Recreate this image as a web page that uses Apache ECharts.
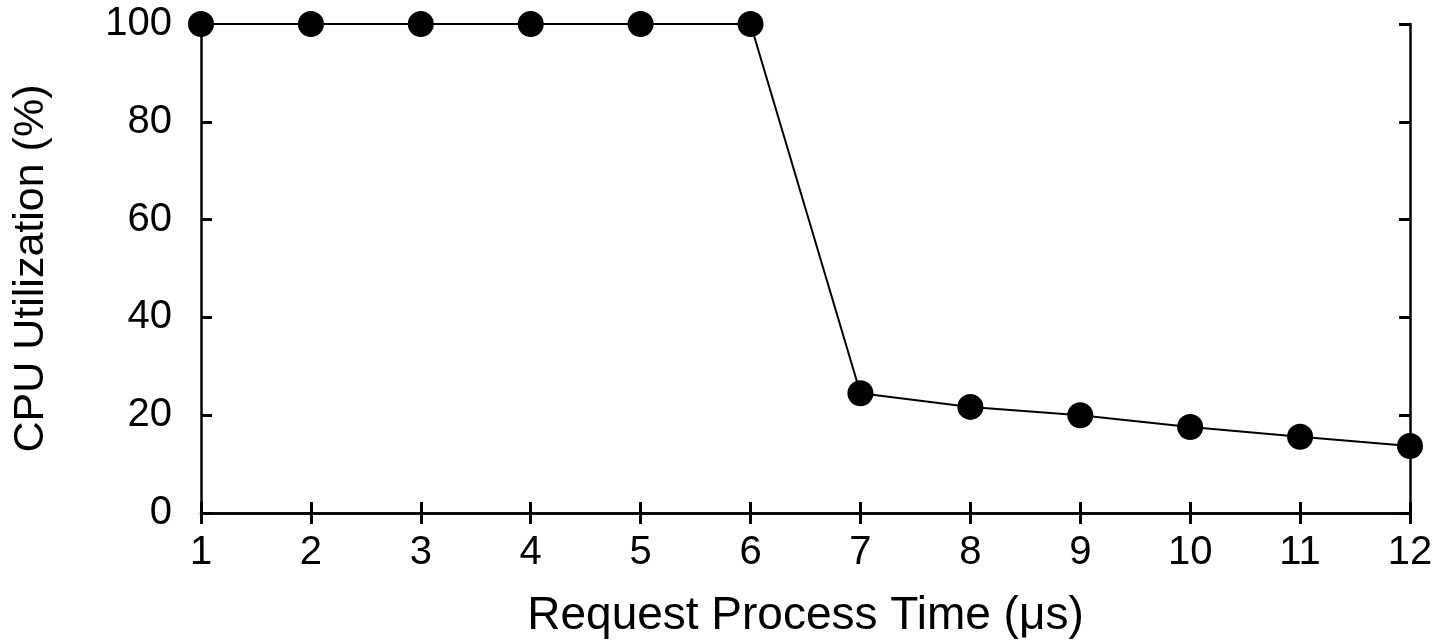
<!DOCTYPE html>
<html>
<head>
<meta charset="utf-8">
<script src="https://cdn.jsdelivr.net/npm/echarts@6/dist/echarts.min.js"></script>
<style>
html,body{margin:0;padding:0;background:#fff;}
#chart{width:1439px;height:641px;}
</style>
</head>
<body>
<div id="chart"></div>
<script>
const processTimes = [1, 2, 3, 4, 5, 6, 7, 8, 9, 10, 11, 12];
const cpuUtilization = [100, 100, 100, 100, 100, 100, 24.5, 21.7, 20.0, 17.6, 15.6, 13.7];
const yTicks = [0, 20, 40, 60, 80, 100];
const xAxisTitle = 'Request Process Time (μs)';
const yAxisTitle = 'CPU Utilization (%)';

const font = 'Liberation Sans, Arial, Helvetica, sans-serif';
const chart = echarts.init(document.getElementById('chart'));
const lineStyle = {color: '#000', width: 2.5};
const tickStyle = {show: true, inside: true, length: 11, lineStyle: {color: '#000', width: 3}};
chart.setOption({
  animation: false,
  backgroundColor: '#fff',
  grid: {left: 201, right: 29, top: 24, bottom: 128, containLabel: false, outerBoundsMode: 'none'},
  xAxis: [{
    type: 'value', min: processTimes[0], max: processTimes[processTimes.length - 1], interval: 1,
    name: xAxisTitle, nameLocation: 'middle', nameGap: 80,
    nameTextStyle: {color: '#000', fontSize: 46, fontFamily: font},
    axisLine: {show: true, lineStyle: lineStyle},
    axisTick: tickStyle,
    axisLabel: {color: '#000', fontSize: 40, fontFamily: font, margin: 20},
    splitLine: {show: false}
  }, {
    type: 'value', position: 'top', min: processTimes[0], max: processTimes[processTimes.length - 1], interval: 1,
    axisLine: {show: true, lineStyle: lineStyle},
    axisTick: tickStyle,
    axisLabel: {show: false},
    splitLine: {show: false}
  }],
  yAxis: [{
    type: 'value', min: yTicks[0], max: yTicks[yTicks.length - 1], interval: 20,
    name: yAxisTitle, nameLocation: 'middle', nameGap: 148, nameRotate: 90,
    nameTextStyle: {color: '#000', fontSize: 43, fontFamily: font},
    axisLine: {show: true, lineStyle: lineStyle},
    axisTick: tickStyle,
    axisLabel: {color: '#000', fontSize: 40, fontFamily: font, margin: 29},
    splitLine: {show: false}
  }, {
    type: 'value', position: 'right', min: yTicks[0], max: yTicks[yTicks.length - 1], interval: 20,
    axisLine: {show: true, lineStyle: lineStyle},
    axisTick: tickStyle,
    axisLabel: {show: false},
    splitLine: {show: false}
  }],
  series: [{
    type: 'line',
    data: processTimes.map((x, i) => [x, cpuUtilization[i]]),
    symbol: 'circle', symbolSize: 26,
    itemStyle: {color: '#000'},
    lineStyle: {color: '#000', width: 2},
    clip: false
  }]
});
</script>
</body>
</html>
